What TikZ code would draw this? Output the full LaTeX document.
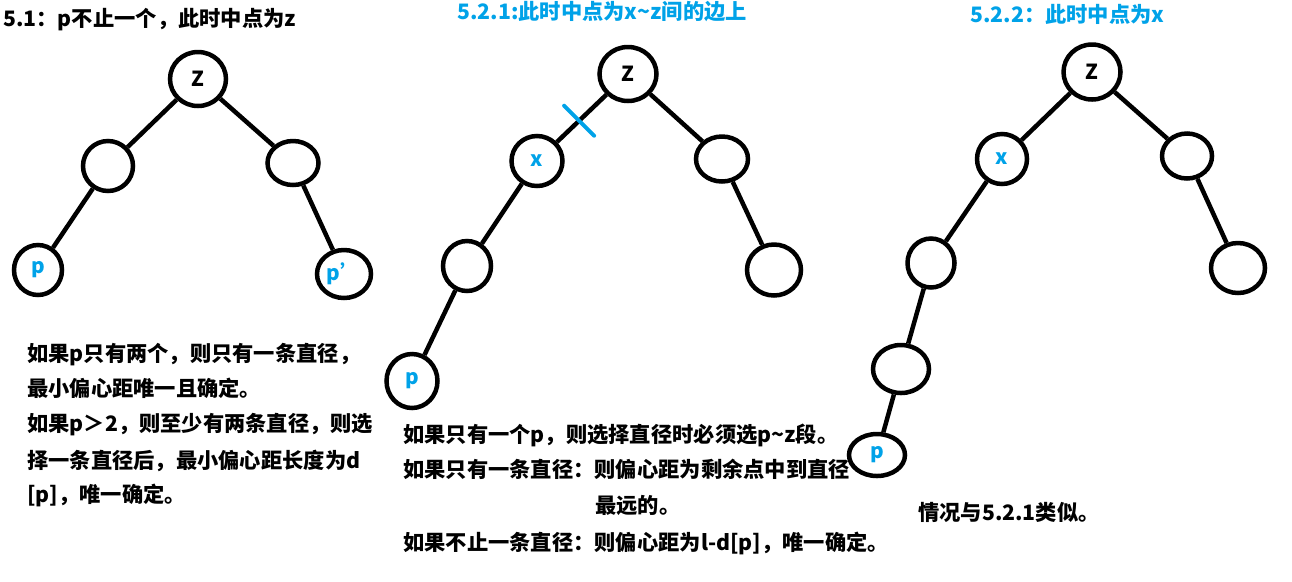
\documentclass[tikz,border=0pt]{standalone}
\usepackage{fontspec}
\setmainfont{Noto Sans CJK SC}
\usetikzlibrary{shapes.geometric}
\definecolor{azzurro}{RGB}{0,162,232}

\begin{document}
\begin{tikzpicture}[
    nodo/.style={ellipse,draw,line width=0.09cm,inner sep=0pt,
                 font=\bfseries\fontsize{11.8}{14}\selectfont},
    misura/.style 2 args={minimum width=#1cm,minimum height=#2cm},
    arco/.style={line width=0.09cm},
    taglio/.style={line width=0.08cm,draw=azzurro,line cap=round},
    riga/.style={inner sep=0pt,anchor=base west,
                 font=\bfseries\fontsize{12.1}{14}\selectfont},
    blu/.style={text=azzurro}]
  \useasboundingbox (0,0) rectangle (25.84,-11.62);

  % ---- titoli --------------------------------------------------------------
  \node[riga]     (t1) at ( 0.06,-0.52) {5.1：p不止一个，此时中点为z};
  \node[riga,blu] (t2) at ( 9.14,-0.38) {5.2.1:此时中点为x\textasciitilde z间的边上};
  \node[riga,blu] (t3) at (19.40,-0.44) {5.2.2：此时中点为x};

  % ---- albero 5.1 ----------------------------------------------------------
  \node[nodo,misura={1.12}{1.08}]     (z1) at (3.96,-1.58) {Z};
  \node[nodo,misura={1.00}{1.00}]     (a1) at (2.16,-3.32) {};
  \node[nodo,misura={1.02}{0.88}]     (b1) at (5.86,-3.26) {};
  \node[nodo,misura={0.96}{1.00},blu] (p1) at (0.76,-5.40) {p};
  \node[nodo,misura={1.08}{0.96},blu] (q1) at (6.88,-5.48) {p\symbol{"27}};

  \draw[arco] (z1) -- (a1)  (z1) -- (b1)
              (a1) -- (p1)  (b1) -- (q1);

  % ---- albero 5.2.1 --------------------------------------------------------
  \node[nodo,misura={1.14}{1.08}]     (z2) at (12.56,-1.48) {Z};
  \node[nodo,misura={1.02}{1.00},blu] (x2) at (10.74,-3.22) {x};
  \node[nodo,misura={1.04}{0.90}]     (b2) at (14.44,-3.18) {};
  \node[nodo,misura={0.96}{1.00}]     (c2) at ( 9.34,-5.32) {};
  \node[nodo,misura={1.08}{1.02}]     (d2) at (15.48,-5.40) {};
  \node[nodo,misura={1.02}{1.08},blu] (p2) at ( 8.24,-7.62) {p};

  \draw[arco] (z2) -- (x2)  (z2) -- (b2)
              (x2) -- (c2)  (c2) -- (p2)
              (b2) -- (d2);

  % segno sul lato x~z
  \path (z2) -- (x2) coordinate[pos=0.55] (cut);
  \draw[taglio] ([shift={(-0.30,0.30)}]cut) -- ([shift={(0.30,-0.30)}]cut);

  % ---- albero 5.2.2 --------------------------------------------------------
  \node[nodo,misura={1.14}{1.10}]     (z3) at (21.84,-1.44) {Z};
  \node[nodo,misura={1.00}{1.00},blu] (x3) at (20.04,-3.18) {x};
  \node[nodo,misura={1.00}{0.90}]     (b3) at (23.74,-3.12) {};
  \node[nodo,misura={0.94}{0.98}]     (c3) at (18.62,-5.26) {};
  \node[nodo,misura={1.08}{1.00}]     (d3) at (24.76,-5.36) {};
  \node[nodo,misura={1.12}{0.96}]     (e3) at (18.02,-7.38) {};
  \node[nodo,misura={1.12}{0.84},blu] (p3) at (17.54,-9.10) {p};

  \draw[arco] (z3) -- (x3)  (z3) -- (b3)
              (x3) -- (c3)  (c3) -- (e3)  (e3) -- (p3)
              (b3) -- (d3);

  % ---- spiegazioni ---------------------------------------------------------
  \node[riga] (s11) at (0.54, -7.22) {如果p只有两个，则只有一条直径，};
  \node[riga] (s12) at (0.54, -7.92) {最小偏心距唯一且确定。};
  \node[riga] (s13) at (0.54, -8.62) {如果p＞2，则至少有两条直径，则选};
  \node[riga] (s14) at (0.54, -9.36) {择一条直径后，最小偏心距长度为d};
  \node[riga] (s15) at (0.54,-10.04) {[p]，唯一确定。};

  \node[riga] (s21) at ( 8.06, -8.84) {如果只有一个p，则选择直径时必须选p\textasciitilde z段。};
  \node[riga] (s22) at ( 8.06, -9.54) {如果只有一条直径：则偏心距为剩余点中到直径};
  \node[riga] (s23) at (11.90,-10.26) {最远的。};
  \node[riga] (s24) at ( 8.06,-11.00) {如果不止一条直径：则偏心距为l-d[p]，唯一确定。};

  \node[riga] (s31) at (18.36,-10.40) {情况与5.2.1类似。};
\end{tikzpicture}
\end{document}
